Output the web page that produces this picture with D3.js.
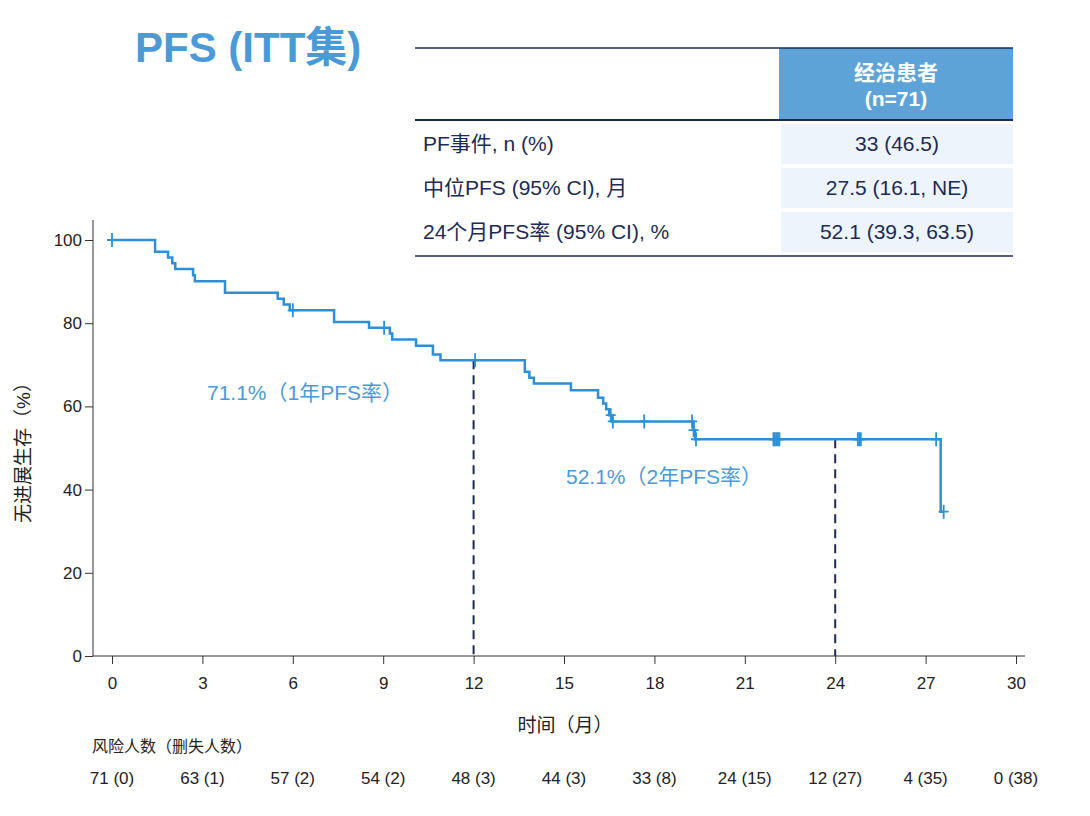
<!doctype html>
<html lang="zh">
<head>
<meta charset="UTF-8">
<title>PFS (ITT集)</title>
<script src="https://cdn.jsdelivr.net/npm/d3@7"></script>
<style>
body { margin: 0; background: #fff; }
text { font-family: "Liberation Sans", "Noto Sans CJK SC", sans-serif; }
</style>
</head>
<body>
<script>
var W = 1090, H = 816;

// KM step events: [month, PFS %]
var kmSteps = [
  [0, 100], [1.43, 97.2], [1.86, 95.8], [2.0, 94.4], [2.1, 93.0], [2.69, 91.5], [2.75, 90.1],
  [3.75, 87.3], [5.5, 85.9], [5.7, 84.5], [5.9, 83.1], [7.37, 80.3], [8.53, 78.9],
  [9.22, 77.5], [9.3, 76.1], [10.09, 74.6], [10.65, 72.5], [10.9, 71.1],
  [13.7, 68.3], [13.85, 66.9], [14.0, 65.5], [15.23, 63.9], [16.13, 62.1], [16.3, 60.7],
  [16.4, 59.3], [16.5, 57.9], [16.6, 56.4], [19.3, 54.3], [19.35, 52.1], [27.5, 34.7], [27.6, 34.7]
];
var censorTimes = [0, 6.0, 9.03, 12.05, 16.55, 16.62, 17.66, 19.25, 19.3, 19.38,
  21.95, 22.0, 22.05, 22.1, 22.15, 24.75, 24.8, 24.85, 27.35, 27.6];
var xTicks = [0, 3, 6, 9, 12, 15, 18, 21, 24, 27, 30];
var yTicks = [0, 20, 40, 60, 80, 100];
var atRisk = ["71 (0)", "63 (1)", "57 (2)", "54 (2)", "48 (3)", "44 (3)", "33 (8)", "24 (15)", "12 (27)", "4 (35)", "0 (38)"];
var tableRows = ["PF事件, n (%)", "中位PFS (95% CI), 月", "24个月PFS率 (95% CI), %"];
var tableVals = ["33 (46.5)", "27.5 (16.1, NE)", "52.1  (39.3, 63.5)"];
var landmarks = [[12, 71.1], [24, 52.1]];

var blue = "#2e8fd6", navy = "#1c2a55", lblue = "#4a9ad8";

var svg = d3.select("body").append("svg").attr("width", W).attr("height", H);

var x = d3.scaleLinear().domain([0, 30]).range([112, 1016]);
var y = d3.scaleLinear().domain([0, 100]).range([656, 240]);

// title
svg.append("text").attr("x", 135).attr("y", 62).attr("fill", lblue)
  .attr("font-size", 42).attr("font-weight", "bold").text("PFS (ITT集)");

// table
svg.append("rect").attr("x", 779).attr("y", 48).attr("width", 234).attr("height", 71).attr("fill", "#5ea3d8");
svg.append("text").attr("x", 896).attr("y", 80).attr("text-anchor", "middle").attr("fill", "#fff")
  .attr("font-size", 21).attr("font-weight", "bold").text("经治患者");
svg.append("text").attr("x", 896).attr("y", 106).attr("text-anchor", "middle").attr("fill", "#fff")
  .attr("font-size", 21).attr("font-weight", "bold").text("(n=71)");
svg.append("line").attr("x1", 415).attr("x2", 1013).attr("y1", 48).attr("y2", 48).attr("stroke", navy).attr("stroke-width", 1.5);
svg.append("line").attr("x1", 415).attr("x2", 1013).attr("y1", 120).attr("y2", 120).attr("stroke", navy).attr("stroke-width", 2);
tableRows.forEach(function(r, i) {
  var top = 122 + i * 44;
  svg.append("rect").attr("x", 781).attr("y", top + 2).attr("width", 232).attr("height", 40).attr("fill", "#eef4fb");
  svg.append("text").attr("x", 423).attr("y", top + 29).attr("fill", navy).attr("font-size", 21).text(r);
  svg.append("text").attr("x", 897).attr("y", top + 29).attr("text-anchor", "middle").attr("fill", navy).attr("font-size", 21).text(tableVals[i]);
});
svg.append("line").attr("x1", 415).attr("x2", 1013).attr("y1", 256).attr("y2", 256).attr("stroke", navy).attr("stroke-width", 1.5);

// axes
var gx = svg.append("g").attr("transform", "translate(0,656)")
  .call(d3.axisBottom(x).tickValues(xTicks).tickSize(8).tickSizeOuter(0));
gx.select(".domain").attr("d", "M93,0H1025");
var gy = svg.append("g").attr("transform", "translate(93,0)")
  .call(d3.axisLeft(y).tickValues(yTicks).tickSize(8).tickSizeOuter(0));
gy.select(".domain").attr("d", "M0,220V656");
svg.selectAll(".tick text").attr("font-size", 17).attr("fill", "#222");
gx.selectAll(".tick text").attr("dy", "1.3em");
svg.selectAll(".domain, .tick line").attr("stroke", "#333");

svg.append("text").attr("transform", "translate(30,448) rotate(-90)").attr("text-anchor", "middle")
  .attr("font-size", 19).attr("fill", "#222").text("无进展生存（%）");
svg.append("text").attr("x", 565).attr("y", 732).attr("text-anchor", "middle")
  .attr("font-size", 19).attr("fill", "#222").text("时间（月）");

// landmark dashed lines
landmarks.forEach(function(l) {
  svg.append("line").attr("x1", x(l[0])).attr("x2", x(l[0])).attr("y1", y(l[1])).attr("y2", y(0))
    .attr("stroke", navy).attr("stroke-width", 2).attr("stroke-dasharray", "9,6");
});

// KM curve
var line = d3.line().x(function(d) { return x(d[0]); }).y(function(d) { return y(d[1]); }).curve(d3.curveStepAfter);
svg.append("path").datum(kmSteps).attr("d", line).attr("fill", "none").attr("stroke", blue).attr("stroke-width", 2.5);

function survAt(t) {
  var s = 100;
  kmSteps.forEach(function(d) { if (d[0] <= t) s = d[1]; });
  return s;
}
// censor marks as "+"
svg.selectAll(".cens").data(censorTimes).enter().append("path")
  .attr("d", function(d) {
    var cx = x(d), cy = y(survAt(d));
    return "M" + cx + "," + (cy - 7) + "V" + (cy + 7) + "M" + (cx - 5) + "," + cy + "H" + (cx + 5);
  })
  .attr("fill", "none").attr("stroke", blue).attr("stroke-width", 1.8);

svg.append("text").attr("x", 207).attr("y", 400).attr("fill", lblue).attr("font-size", 21).text("71.1%（1年PFS率）");
svg.append("text").attr("x", 566).attr("y", 484).attr("fill", lblue).attr("font-size", 21).text("52.1%（2年PFS率）");

// at risk
svg.append("text").attr("x", 92).attr("y", 752).attr("font-size", 16).attr("fill", "#222").text("风险人数（删失人数）");
svg.selectAll(".risk").data(atRisk).enter().append("text")
  .attr("x", function(d, i) { return x(xTicks[i]); }).attr("y", 784)
  .attr("text-anchor", "middle").attr("font-size", 17).attr("fill", "#222").text(function(d) { return d; });
</script>
</body>
</html>
